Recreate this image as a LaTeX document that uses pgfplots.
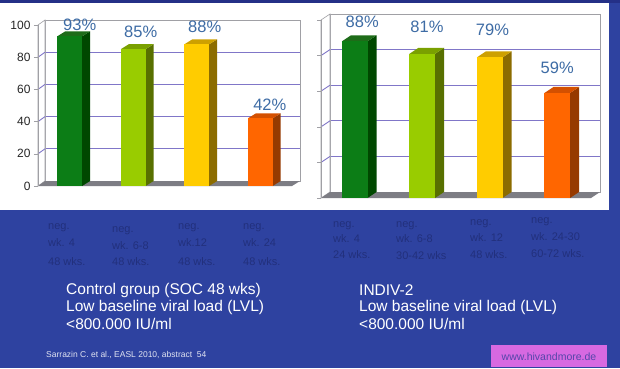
\documentclass[border=0pt]{standalone}
\usepackage{pgfplots}
\pgfplotsset{compat=1.18}
\usepackage{fontspec}
\setmainfont{Liberation Sans}
\definecolor{bg}{RGB}{46,66,160}
\definecolor{topstrip}{RGB}{36,48,135}
\definecolor{gridc}{RGB}{128,118,200}
\definecolor{framec}{RGB}{160,160,165}
\definecolor{floorc}{RGB}{125,125,132}
\definecolor{lblc}{RGB}{62,108,165}
\definecolor{catc}{RGB}{34,48,124}
\definecolor{gF}{RGB}{12,125,22}\definecolor{gS}{RGB}{0,72,0}\definecolor{gT}{RGB}{30,108,25}
\definecolor{lF}{RGB}{153,204,0}\definecolor{lS}{RGB}{88,112,0}\definecolor{lT}{RGB}{122,160,0}
\definecolor{yF}{RGB}{255,204,0}\definecolor{yS}{RGB}{140,108,0}\definecolor{yT}{RGB}{205,160,0}
\definecolor{oF}{RGB}{255,102,0}\definecolor{oS}{RGB}{150,58,0}\definecolor{oT}{RGB}{212,80,0}
\definecolor{pinkc}{RGB}{215,105,225}
\definecolor{wwwc}{RGB}{85,70,170}
\pgfplotsset{
  backwall/.style={scale only axis, anchor=south west,
    xmin=0, xmax=1, ymin=0, ymax=100, xtick=\empty, ytick={20,40,60,80},
    yticklabels={}, major tick length=0pt, ymajorgrids,
    grid style={color=gridc, line width=0.9pt},
    axis line style={draw=framec, line width=0.6pt},
    axis background/.style={fill=white}},
  frontax/.style={scale only axis, anchor=south west,
    xmin=-0.5, xmax=3.5, ymin=0, ymax=100, clip=false,
    axis x line=none, axis y line*=left,
    y axis line style={draw=framec, line width=0.6pt},
    ytick={0,20,40,60,80,100}, major tick length=4pt, tick align=outside,
    tick style={draw=framec, line width=0.6pt},
    yticklabel style={font=\fontsize{12}{12}\selectfont, text=black!85},
    /pgf/number format/assume math mode=true},
}
\tikzset{vlab/.style={font=\fontsize{16.5}{16.5}\selectfont, text=lblc}}
\begin{document}
\begin{tikzpicture}[x=1pt,y=1pt]
\useasboundingbox (0,0) rectangle (620,368);
\begin{scope}[y=-1pt, shift={(0pt,368pt)}]
\fill[bg] (0,0) rectangle (620,368);
\fill[topstrip] (0,0) rectangle (620,3);
\fill[white] (0,3) rectangle (609,210);
\end{scope}

% ---------------- left chart ----------------
\begin{axis}[backwall, at={(45pt,187pt)}, width=255pt, height=161pt]
\end{axis}
\begin{scope}[y=-1pt, shift={(0pt,368pt)}]
\filldraw[fill=white, draw=framec, line width=0.6pt] (38,186) -- (45,181) -- (45,20) -- (38,25) -- cycle;
\foreach \v in {20,40,60,80} \draw[gridc, line width=0.9pt] (38,{186-1.61*\v}) -- (45,{181-1.61*\v});
\fill[floorc] (38,186) -- (292,186) -- (300,181) -- (45,181) -- cycle;
\end{scope}
\begin{axis}[frontax, at={(38pt,182pt)}, width=254pt, height=161pt]
% sides
\addplot[fill=gS, draw=none] coordinates {(0.195,0) (0.321,3.1) (0.321,96.1) (0.195,93)} -- cycle;
\addplot[fill=lS, draw=none] coordinates {(1.195,0) (1.321,3.1) (1.321,88.1) (1.195,85)} -- cycle;
\addplot[fill=yS, draw=none] coordinates {(2.195,0) (2.321,3.1) (2.321,91.1) (2.195,88)} -- cycle;
\addplot[fill=oS, draw=none] coordinates {(3.195,0) (3.321,3.1) (3.321,45.1) (3.195,42)} -- cycle;
% tops
\addplot[fill=gT, draw=none] coordinates {(-0.195,93) (-0.069,96.1) (0.321,96.1) (0.195,93)} -- cycle;
\addplot[fill=lT, draw=none] coordinates {(0.805,85) (0.931,88.1) (1.321,88.1) (1.195,85)} -- cycle;
\addplot[fill=yT, draw=none] coordinates {(1.805,88) (1.931,91.1) (2.321,91.1) (2.195,88)} -- cycle;
\addplot[fill=oT, draw=none] coordinates {(2.805,42) (2.931,45.1) (3.321,45.1) (3.195,42)} -- cycle;
% fronts
\addplot[ybar, bar width=0.39, fill=gF, draw=none] coordinates {(0,93)};
\addplot[ybar, bar width=0.39, fill=lF, draw=none] coordinates {(1,85)};
\addplot[ybar, bar width=0.39, fill=yF, draw=none] coordinates {(2,88)};
\addplot[ybar, bar width=0.39, fill=oF, draw=none] coordinates {(3,42)};
\node[vlab] at (axis cs:0.157,100) {93\%};
\node[vlab] at (axis cs:1.118,95.7) {85\%};
\node[vlab] at (axis cs:2.126,98.8) {88\%};
\node[vlab] at (axis cs:3.15,50.3) {42\%};
\end{axis}

% ---------------- right chart ----------------
\begin{axis}[backwall, at={(330pt,176pt)}, width=270pt, height=178pt]
\end{axis}
\begin{scope}[y=-1pt, shift={(0pt,368pt)}]
\filldraw[fill=white, draw=framec, line width=0.6pt] (321,198) -- (330,192) -- (330,14) -- (321,20) -- cycle;
\foreach \v in {20,40,60,80} \draw[gridc, line width=0.9pt] (321,{198-1.78*\v}) -- (330,{192-1.78*\v});
\fill[floorc] (321,198) -- (591,198) -- (600,192) -- (330,192) -- cycle;
\end{scope}
\begin{axis}[frontax, at={(321pt,170pt)}, width=270pt, height=178pt, yticklabels={}]
\addplot[fill=gS, draw=none] coordinates {(0.19,0) (0.323,3.37) (0.323,91.37) (0.19,88)} -- cycle;
\addplot[fill=lS, draw=none] coordinates {(1.19,0) (1.323,3.37) (1.323,84.37) (1.19,81)} -- cycle;
\addplot[fill=yS, draw=none] coordinates {(2.19,0) (2.323,3.37) (2.323,82.37) (2.19,79)} -- cycle;
\addplot[fill=oS, draw=none] coordinates {(3.19,0) (3.323,3.37) (3.323,62.37) (3.19,59)} -- cycle;
\addplot[fill=gT, draw=none] coordinates {(-0.19,88) (-0.057,91.37) (0.323,91.37) (0.19,88)} -- cycle;
\addplot[fill=lT, draw=none] coordinates {(0.81,81) (0.943,84.37) (1.323,84.37) (1.19,81)} -- cycle;
\addplot[fill=yT, draw=none] coordinates {(1.81,79) (1.943,82.37) (2.323,82.37) (2.19,79)} -- cycle;
\addplot[fill=oT, draw=none] coordinates {(2.81,59) (2.943,62.37) (3.323,62.37) (3.19,59)} -- cycle;
\addplot[ybar, bar width=0.38, fill=gF, draw=none] coordinates {(0,88)};
\addplot[ybar, bar width=0.38, fill=lF, draw=none] coordinates {(1,81)};
\addplot[ybar, bar width=0.38, fill=yF, draw=none] coordinates {(2,79)};
\addplot[ybar, bar width=0.38, fill=oF, draw=none] coordinates {(3,59)};
\node[vlab] at (axis cs:0.11,98.9) {88\%};
\node[vlab] at (axis cs:1.07,96.1) {81\%};
\node[vlab] at (axis cs:2.04,94.4) {79\%};
\node[vlab] at (axis cs:3.0,73.0) {59\%};
\end{axis}

\begin{scope}[y=-1pt, shift={(0pt,368pt)}]
% ---------------- category labels ----------------
\begin{scope}[every node/.style={anchor=west, inner sep=0pt, text=catc, font=\fontsize{11}{11}\selectfont}]
\node at (48,228) {neg.};  \node at (48,243) {wk. 4};   \node at (48,262) {48 wks.};
\node at (112,231) {neg.}; \node at (112,246) {wk. 6-8}; \node at (112,262) {48 wks.};
\node at (178,228) {neg.}; \node at (178,243) {wk.12};   \node at (178,262) {48 wks.};
\node at (243,228) {neg.}; \node at (243,243) {wk. 24};  \node at (243,262) {48 wks.};
\node at (333,226) {neg.}; \node at (333,239) {wk. 4};   \node at (333,255) {24 wks.};
\node at (396,226) {neg.}; \node at (396,239) {wk. 6-8}; \node at (396,256) {30-42 wks};
\node at (470,224) {neg.}; \node at (470,238) {wk. 12};  \node at (470,255) {48 wks.};
\node at (531,222) {neg.}; \node at (531,237) {wk. 24-30}; \node at (531,254) {60-72 wks.};
\end{scope}
% ---------------- white text ----------------
\begin{scope}[every node/.style={anchor=west, inner sep=0pt, text=white, font=\fontsize{15.5}{15.5}\selectfont}]
\node at (66,290) {Control group (SOC 48 wks)};
\node at (66,307) {Low baseline viral load (LVL)};
\node at (66,324) {<800.000 IU/ml};
\node at (359,290) {INDIV-2};
\node at (359,307) {Low baseline viral load (LVL)};
\node at (359,324) {<800.000 IU/ml};
\end{scope}
\node[anchor=west, inner sep=0pt, text=white!85!bg, font=\fontsize{8.5}{8.5}\selectfont] at (46,355) {Sarrazin C. et al., EASL 2010, abstract\ \ 54};
\fill[pinkc] (491,345) rectangle (607,367);
\node[text=wwwc, inner sep=0pt, font=\fontsize{10.5}{10.5}\selectfont] at (549,357) {www.hivandmore.de};
\end{scope}
\end{tikzpicture}
\end{document}
